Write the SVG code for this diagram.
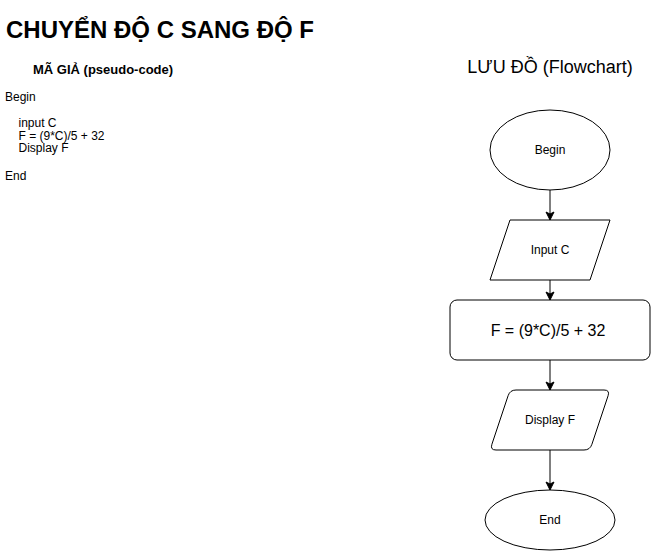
<svg xmlns="http://www.w3.org/2000/svg" width="670" height="551" viewBox="0 0 670 551">
<defs>
<style>
text{font-family:"Liberation Sans",Arial,sans-serif;fill:#000}
.shape{fill:#fff;stroke:#000;stroke-width:1}
.lbl{font-size:12px;text-anchor:middle}
.code{font-size:12px}
.edge{stroke:#000;stroke-width:1;fill:none}
</style>
<marker id="arr" markerUnits="userSpaceOnUse" markerWidth="10" markerHeight="10" viewBox="0 0 10 10" refX="9" refY="5" orient="auto">
<path d="M1,1 L9,5 L1,9 L3,5 Z" fill="#000" stroke="#000" stroke-width="1"/>
</marker>
</defs>
<rect width="670" height="551" fill="#fff"/>
<g id="title"><text x="6" y="38" font-size="24" font-weight="bold">CHUYỂN ĐỘ C SANG ĐỘ F</text></g>
<g id="pseudo">
<text x="33" y="74" font-size="13" font-weight="bold">MÃ GIẢ (pseudo-code)</text>
<text class="code" x="5" y="100.5">Begin</text>
<text class="code" x="18.5" y="127">input C</text>
<text class="code" x="18.5" y="139.5">F = (9*C)/5 + 32</text>
<text class="code" x="18.5" y="152">Display F</text>
<text class="code" x="5" y="179.5">End</text>
</g>
<g id="flow-title"><text x="550" y="73" font-size="18" text-anchor="middle">LƯU ĐỒ (Flowchart)</text></g>
<g id="connectors">
<line class="edge" x1="550" y1="190" x2="550" y2="220" marker-end="url(#arr)"/>
<line class="edge" x1="550" y1="280" x2="550" y2="300" marker-end="url(#arr)"/>
<line class="edge" x1="550" y1="360" x2="550" y2="390" marker-end="url(#arr)"/>
<line class="edge" x1="550" y1="450" x2="550" y2="490" marker-end="url(#arr)"/>
</g>
<g id="node-begin">
<ellipse class="shape" cx="550" cy="150" rx="60" ry="40"/>
<text class="lbl" x="550" y="154">Begin</text>
</g>
<g id="node-input">
<polygon class="shape" points="510,220 610,220 590,280 490,280"/>
<text class="lbl" x="550" y="254">Input C</text>
</g>
<g id="node-process">
<rect class="shape" x="450" y="300" width="200" height="60" rx="7" ry="7"/>
<text x="548" y="336" font-size="16" text-anchor="middle">F = (9*C)/5 + 32</text>
</g>
<g id="node-display">
<path class="shape" d="M516,390 L604,390 Q610,390 608.1,395.7 L591.9,444.3 Q590,450 584,450 L496,450 Q490,450 491.9,444.3 L508.1,395.7 Q510,390 516,390 Z"/>
<text class="lbl" x="550" y="424">Display F</text>
</g>
<g id="node-end">
<ellipse class="shape" cx="550" cy="520" rx="65" ry="30"/>
<text class="lbl" x="550" y="524">End</text>
</g>
</svg>
